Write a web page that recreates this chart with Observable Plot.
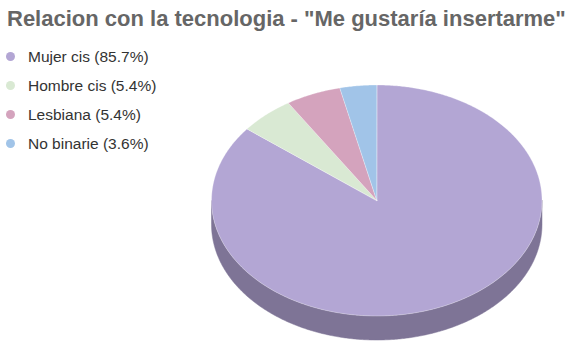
<!DOCTYPE html>
<html>
<head>
<meta charset="utf-8">
<script src="https://cdn.jsdelivr.net/npm/d3@7"></script>
<script src="https://cdn.jsdelivr.net/npm/@observablehq/plot@0.6"></script>
<style>
  html, body { margin: 0; padding: 0; background: #fff; }
  #wrap { position: relative; width: 586px; height: 353px; overflow: hidden; font-family: "Liberation Sans", Arial, sans-serif; }
  #title { position: absolute; left: 7px; top: 5px; font-size: 22px; font-weight: bold; color: #666; white-space: nowrap; line-height: 27px; }
  #legend { position: absolute; left: 6px; top: 42px; }
  .item { display: flex; align-items: center; height: 29px; font-size: 15.5px; color: #333; white-space: nowrap; }
  .sw { width: 9px; height: 9px; border-radius: 50%; margin-right: 13px; margin-left: 0px; }
  #chart { position: absolute; left: 0; top: 43px; }
</style>
</head>
<body>
<div id="wrap">
  <div id="title"></div>
  <div id="legend"></div>
  <div id="chart"></div>
</div>
<script>
const title = 'Relacion con la tecnologia - "Me gustaría insertarme"';
const categories = ["Mujer cis", "Hombre cis", "Lesbiana", "No binarie"];
const percents = [85.7, 5.4, 5.4, 3.6];
const colors = ["#b3a6d4", "#d9e9d3", "#d4a3bd", "#a1c4e8"];
const sideColors = ["#7e7496", "#98a494", "#957385", "#7189a3"];

document.getElementById("title").textContent = title;
const legend = document.getElementById("legend");
categories.forEach((c, i) => {
  const row = document.createElement("div");
  row.className = "item";
  const sw = document.createElement("span");
  sw.className = "sw";
  sw.style.background = colors[i];
  const t = document.createElement("span");
  t.textContent = `${c} (${percents[i]}%)`;
  row.appendChild(sw); row.appendChild(t);
  legend.appendChild(row);
});

// pie layout: clockwise from 12 o'clock
const arcs = d3.pie().sort(null).value(d => d)(percents);
const depth = 0.208; // thickness in y-units of the ellipse radius
const step = Math.PI / 360;

function arcPts(a, b, dy) {
  const pts = [];
  const n = Math.max(2, Math.ceil((b - a) / step));
  for (let k = 0; k <= n; k++) {
    const t = a + (b - a) * k / n;
    pts.push({x: Math.sin(t), y: -Math.cos(t) + dy});
  }
  return pts;
}

const marks = [];
// side walls (front half only)
arcs.forEach((arc, i) => {
  const s = Math.max(arc.startAngle, Math.PI / 2);
  const e = Math.min(arc.endAngle, 3 * Math.PI / 2);
  if (e <= s) return;
  const pts = arcPts(s, e, 0).concat(arcPts(s, e, depth).reverse());
  marks.push(Plot.line(pts, {x: "x", y: "y", fill: sideColors[i], stroke: sideColors[i], strokeWidth: 0.5, curve: "linear-closed"}));
});
// top faces
arcs.forEach((arc, i) => {
  const pts = [{x: 0, y: 0}].concat(arcPts(arc.startAngle, arc.endAngle, 0));
  marks.push(Plot.line(pts, {x: "x", y: "y", fill: colors[i], stroke: "#ffffff", strokeWidth: 0.6, strokeOpacity: 0.5, curve: "linear-closed"}));
});

const chart = Plot.plot({
  width: 586,
  height: 310,
  margin: 0,
  x: {domain: [-1, 1], range: [211, 541.5], axis: null},
  y: {domain: [-1, 1], range: [41.5, 272.5], axis: null},
  marks
});
document.getElementById("chart").appendChild(chart);
</script>
</body>
</html>
